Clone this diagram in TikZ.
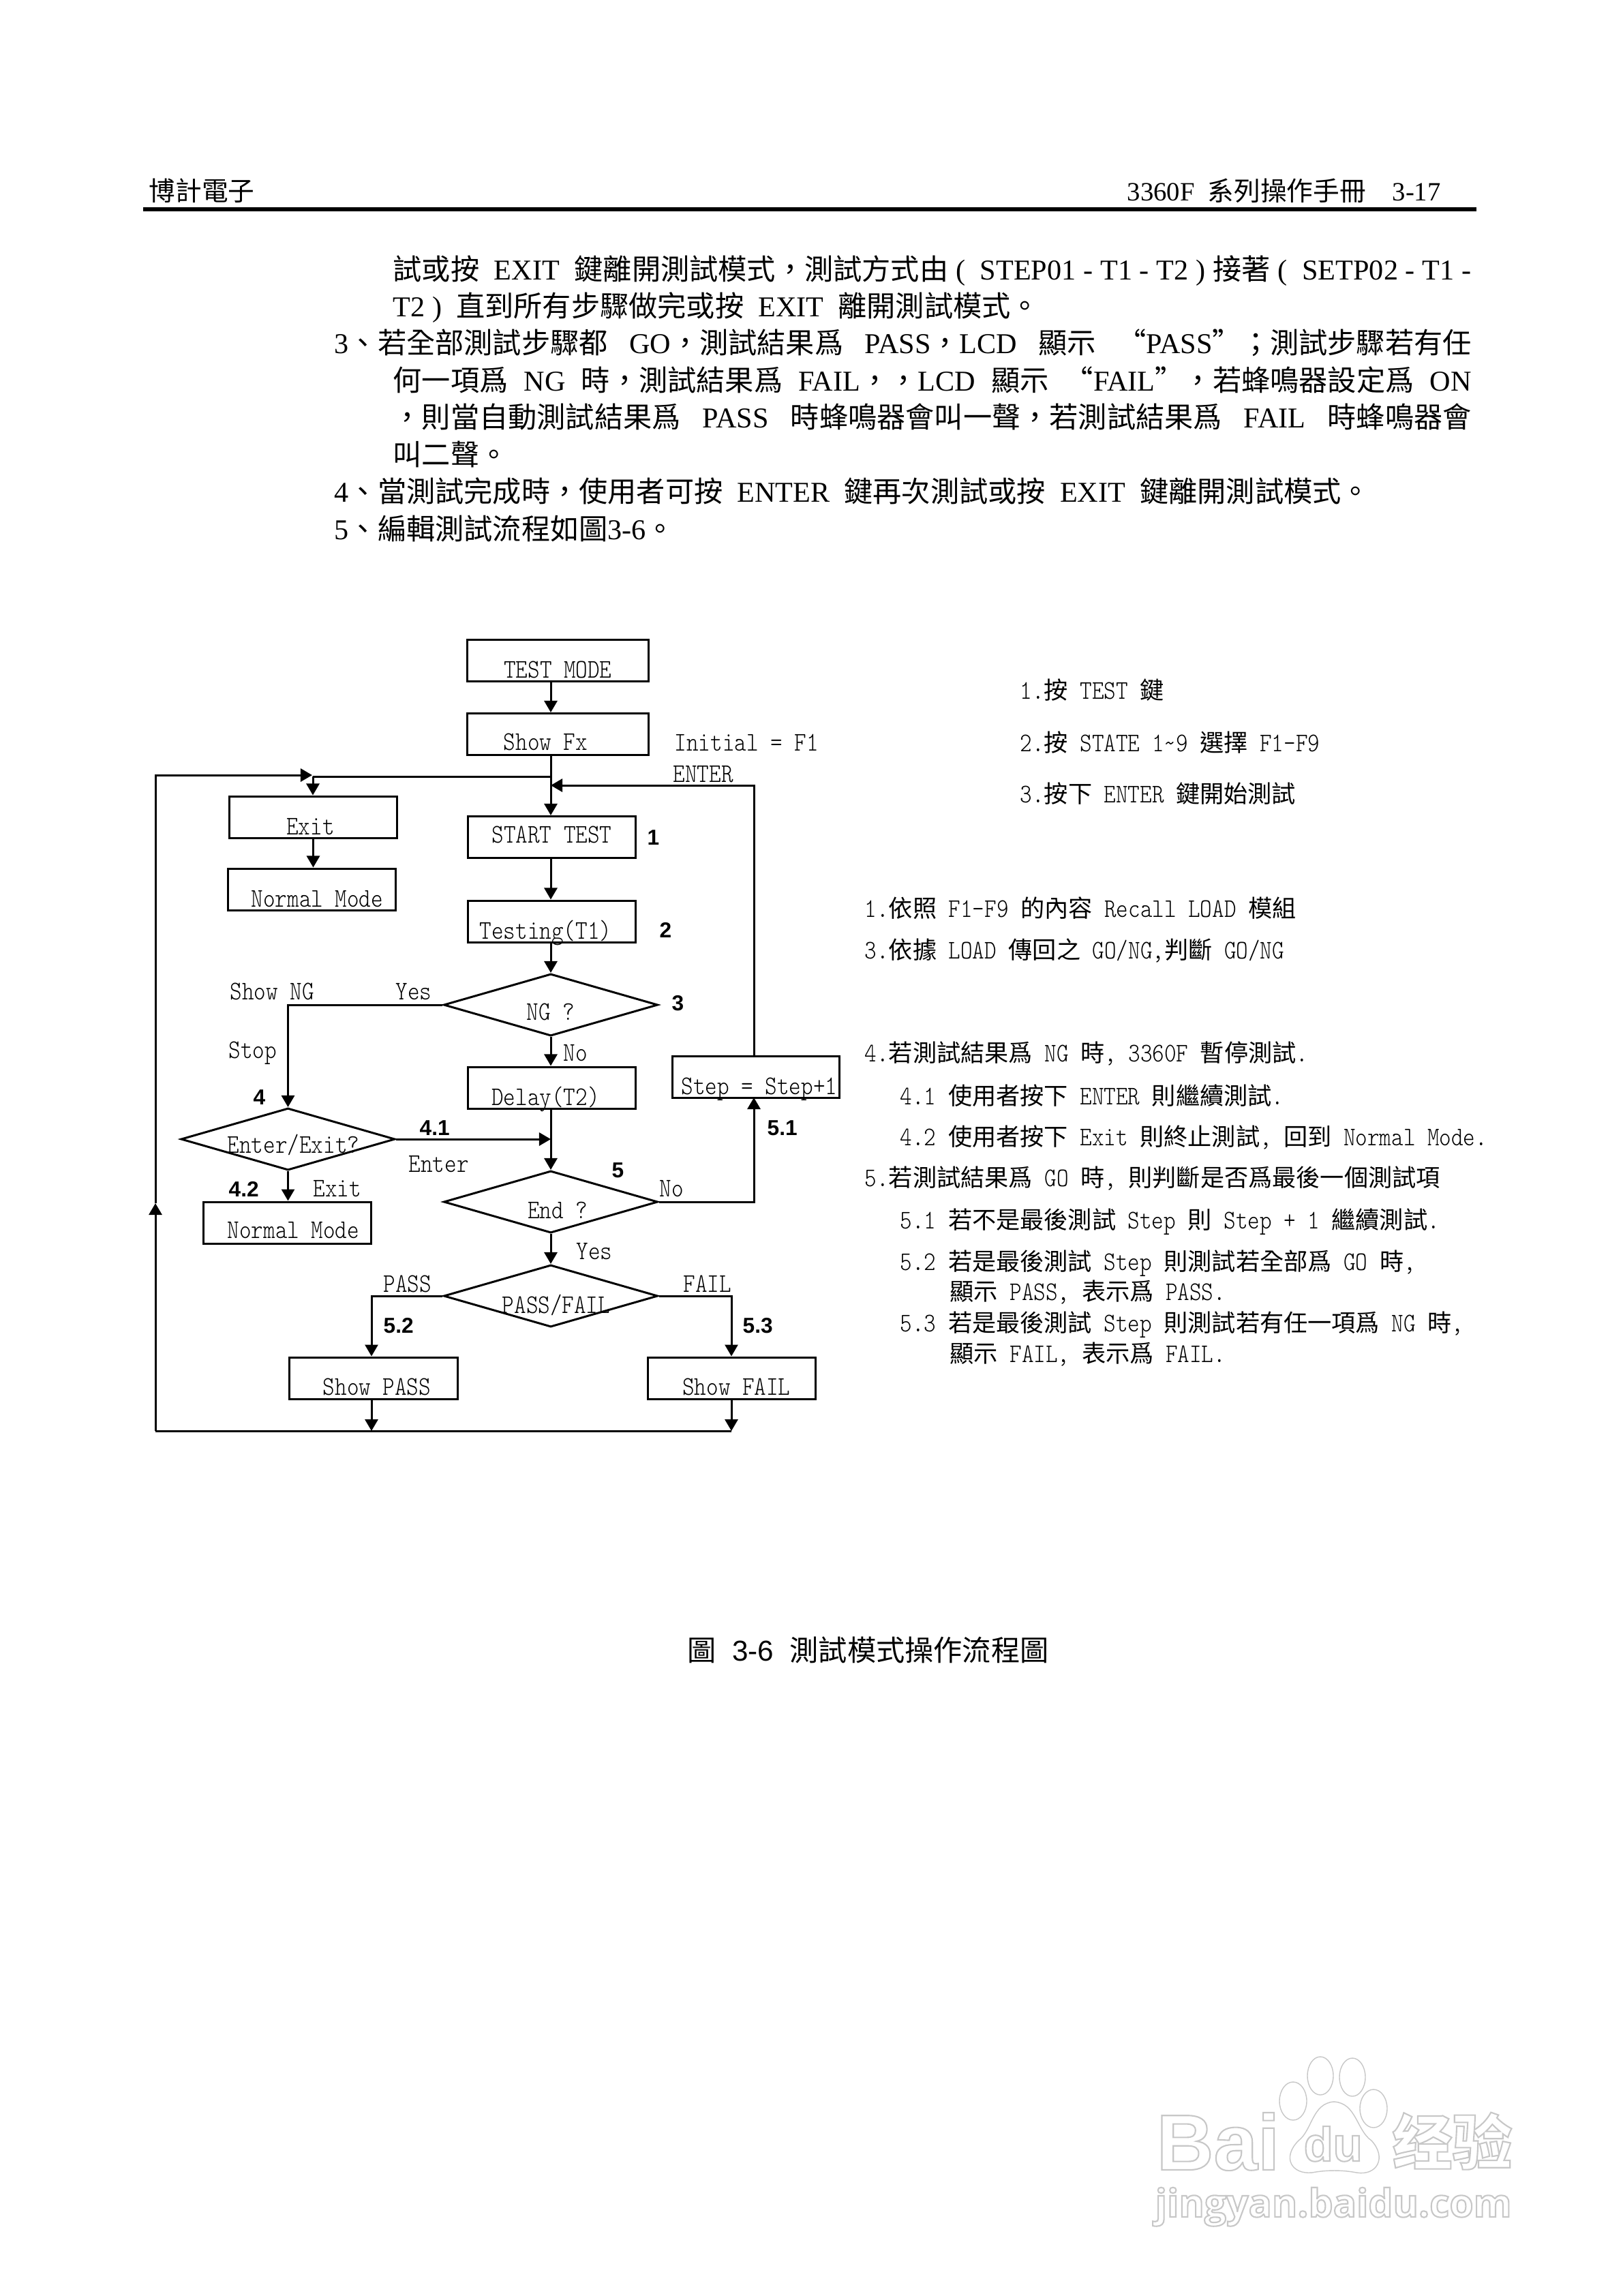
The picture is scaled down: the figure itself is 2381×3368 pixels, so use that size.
\documentclass[tikz,border=0pt]{standalone}
\usepackage{fontspec}
\usetikzlibrary{arrows.meta, shapes.geometric}
\setmainfont{Liberation Serif}
\newfontfamily\cjk{Noto Sans CJK TC}
\newfontfamily\cjknote{Noto Sans CJK TC}[Scale=0.893]
\newfontfamily\lat{Latin Modern Mono Light}[FakeStretch=0.85]
\newfontfamily\arial{Liberation Sans}
\newfontfamily\wide{Open Sans}
\newcommand{\zh}[1]{{\cjk #1}}
\newcommand{\zn}[1]{{\cjknote #1}}
\newcommand{\fitline}[2]{\makebox[#1][s]{#2}}
\newcommand{\lowered}[2]{\makebox[0pt][c]{\smash{\raisebox{-#1}{#2}}}}
\newcommand{\outl}[1]{\special{pdf:code 1 Tr 0.6 w 0.78 G}#1\special{pdf:code 0 Tr 0 G}}
\tikzset{
  box/.style={draw, line width=.03cm, inner sep=0pt, minimum width=2.46cm, text height=.56cm, text depth=.05cm, font=\lat\fontsize{11.2}{13}\selectfont},
  decide/.style={draw, diamond, line width=.03cm, inner sep=0pt, minimum width=3.14cm, minimum height=.91cm, font=\lat\fontsize{11.2}{13}\selectfont},
  flow/.style={-{Triangle[length=.17cm,width=.19cm]}, line width=.03cm},
  wire/.style={line width=.03cm},
  lab/.style={anchor=base west, inner sep=0pt, font=\lat\fontsize{11.2}{13}\selectfont},
  stepno/.style={anchor=base west, inner sep=0pt, font=\arial\bfseries\fontsize{9}{11}\selectfont},
  body/.style={anchor=base west, inner sep=0pt, font=\fontsize{12}{14}\selectfont},
  wmark/.style={draw=black!22, line width=.014cm},
}
\begin{document}
\begin{tikzpicture}[x=.01cm, y=-.01cm]
  \useasboundingbox (0,0) rectangle (2381,3368);
  % page head
  \node[body, font=\fontsize{11}{13}\selectfont] (headl) at (218,294) {\zh{博計電子}};
  \node[body, font=\fontsize{11}{13}\selectfont] (headr) at (1653,294) {3360F~~\zh{系列操作手冊}~~~~3-17};
  \coordinate (rulel) at (210,307);
  \coordinate (ruler) at (2166,307);
  \draw[line width=.06cm] (rulel) -- (ruler);
  % running text
  \node[body] (t1) at (576,410) {\fitline{15.81cm}{\zh{試或按}~~EXIT~~\zh{鍵離開測試模式，測試方式由} (~~STEP01 - T1 - T2 ) \zh{接著} (~~SETP02 - T1 -}};
  \node[body] (t2) at (576,464) {T2 )~~\zh{直到所有步驟做完或按}~~EXIT~~\zh{離開測試模式。}};
  \node[body] (t3) at (490,518) {\fitline{16.67cm}{3\zh{、若全部測試步驟都} GO\zh{，測試結果爲} PASS\zh{，}LCD \zh{顯示}~\zh{“}PASS\zh{”；測試步驟若有任}}};
  \node[body] (t4) at (576,573) {\fitline{15.81cm}{\zh{何一項爲} NG \zh{時，測試結果爲} FAIL\zh{，，}LCD \zh{顯示}~\zh{“}FAIL\zh{”，若蜂鳴器設定爲} ON}};
  \node[body] (t5) at (576,627) {\fitline{15.81cm}{\zh{，則當自動測試結果爲} PASS \zh{時蜂鳴器會叫一聲，若測試結果爲} FAIL \zh{時蜂鳴器會}}};
  \node[body] (t6) at (576,682) {\zh{叫二聲。}};
  \node[body] (t7) at (490,736) {4\zh{、當測試完成時，使用者可按}~~ENTER~~\zh{鍵再次測試或按}~~EXIT~~\zh{鍵離開測試模式。}};
  \node[body] (t8) at (490,791) {5\zh{、編輯測試流程如圖}3-6\zh{。}};
  % flow chart boxes
  \node[box, minimum width=2.65cm] (mode) at (818.5,968.5) {TEST MODE};
  \node[box, minimum width=2.65cm, text depth=.07cm, text height=.54cm] (fx) at (818.5,1077) {\hspace*{-.36cm}Show Fx};
  \node[box] (exit) at (459.5,1198.5) {\hspace*{-.08cm}Exit};
  \node[box] (normala) at (457.5,1304.5) {\hspace*{.16cm}Normal Mode};
  \node[box, text depth=.22cm, text height=.39cm] (start) at (809.5,1228) {START TEST};
  \node[box] (testing) at (809.5,1351.5) {\hspace*{-.18cm}Testing(T1)};
  \node[decide] (ng) at (808,1474) {\lowered{.22cm}{NG ?}};
  \node[box] (delay) at (809.5,1595.5) {\hspace*{-.18cm}Delay(T2)};
  \node[box, minimum width=2.44cm] (stepup) at (1109,1579.5) {\hspace*{.1cm}Step = Step+1};
  \node[decide] (enterq) at (422.5,1671) {\lowered{.2cm}{\hspace*{.16cm}Enter/Exit?}};
  \node[decide] (endq) at (808,1763) {\lowered{.24cm}{\hspace*{.2cm}End ?}};
  \node[box, text depth=.08cm, text height=.53cm] (normalb) at (421.5,1793.5) {\hspace*{.18cm}Normal Mode};
  \node[decide] (passfail) at (808,1901) {\lowered{.25cm}{\hspace*{.16cm}PASS/FAIL}};
  \node[box, text depth=.06cm, text height=.55cm] (showpass) at (548,2021.5) {\hspace*{.1cm}Show PASS};
  \node[box, text depth=.06cm, text height=.55cm] (showfail) at (1073.5,2021.5) {\hspace*{.14cm}Show FAIL};
  % points on the lines
  \coordinate (fork) at (808,1139);
  \coordinate (forkl) at (459,1139);
  \coordinate (enterin) at (808,1152);
  \coordinate (merge) at (808,1671);
  \coordinate (stepb) at (1106,1610);
  \coordinate (lp) at (545,2099);
  \coordinate (lf) at (1073,2099);
  \coordinate (lb) at (228,2099);
  \coordinate (loopup) at (228,1765);
  \coordinate (looptl) at (228,1137);
  \coordinate (looptr) at (458,1137);
  % connectors
  \draw[flow] (mode.south -| fork) -- (fx.north -| fork);
  \draw[flow] (fx.south -| fork) -- (start.north -| fork);
  \draw[wire] (fork) -- (forkl);
  \draw[flow] (forkl) -- (exit.north -| forkl);
  \draw[flow] (exit.south) -- (exit.south |- normala.north);
  \draw[flow] (start.south -| fork) -- (testing.north -| fork);
  \draw[flow] (testing.south -| fork) -- (ng.north);
  \draw[flow] (ng.south) -- (ng.south |- delay.north);
  \draw[flow] (ng.west) -| (enterq.north);
  \draw[flow] (enterq.east) -- (merge);
  \draw[flow] (enterq.south) -- (enterq.south |- normalb.north);
  \draw[flow] (delay.south -| fork) -- (endq.north);
  \draw[flow] (endq.south) -- (passfail.north);
  \draw[flow] (endq.east) -| (stepb);
  \draw[flow] (stepup.north -| stepb) |- (enterin);
  \draw[flow] (passfail.west) -| (showpass.north -| lp);
  \draw[flow] (passfail.east) -| (showfail.north -| lf);
  \draw[flow] (showpass.south -| lp) -- (lp);
  \draw[flow] (showfail.south -| lf) -- (lf);
  \draw[wire] (lf) -- (lb);
  \draw[flow] (lb) -- (loopup);
  \draw[flow] (loopup) -- (looptl) -- (looptr);
  % texts on the chart
  \node[lab] (initial) at (989,1101) {Initial = F1};
  \node[lab] (enterkey) at (987,1147) {ENTER};
  \node[lab] (showng) at (337,1466) {Show NG};
  \node[lab] (yesa) at (580,1466) {Yes};
  \node[lab] (stoplab) at (335,1552) {Stop};
  \node[lab] (noa) at (826,1556) {No};
  \node[lab] (enterlab) at (599,1719) {Enter};
  \node[lab] (nob) at (967,1755) {No};
  \node[lab] (exitlab) at (459,1755) {Exit};
  \node[lab] (yesb) at (845,1847) {Yes};
  \node[lab] (passlab) at (562,1895) {PASS};
  \node[lab] (faillab) at (1002,1895) {FAIL};
  % step numbers
  \node[stepno] (n1) at (949,1239) {1};
  \node[stepno] (n2) at (967,1375) {2};
  \node[stepno] (n3) at (985,1482) {3};
  \node[stepno] (n4) at (371,1620) {4};
  \node[stepno] (n41) at (615,1665) {4.1};
  \node[stepno] (n42) at (335,1755) {4.2};
  \node[stepno] (n5) at (897,1727) {5};
  \node[stepno] (n51) at (1125,1665) {5.1};
  \node[stepno] (n52) at (562,1955) {5.2};
  \node[stepno] (n53) at (1089,1955) {5.3};
  % notes beside the chart
  \node[lab] (na1) at (1496,1025) {1.\zn{按} TEST \zn{鍵}};
  \node[lab] (na2) at (1496,1102) {2.\zn{按} STATE 1\char`\~9 \zn{選擇} F1-F9};
  \node[lab] (na3) at (1496,1177) {3.\zn{按下} ENTER \zn{鍵開始測試}};
  \node[lab] (nb1) at (1268,1345) {1.\zn{依照} F1-F9 \zn{的內容} Recall LOAD \zn{模組}};
  \node[lab] (nb3) at (1268,1406) {3.\zn{依據} LOAD \zn{傳回之} GO/NG,\zn{判斷} GO/NG};
  \node[lab] (nc4) at (1268,1557) {4.\zn{若測試結果爲} NG \zn{時}, 3360F \zn{暫停測試}.};
  \node[lab] (nc41) at (1320,1620) {4.1 \zn{使用者按下} ENTER \zn{則繼續測試}.};
  \node[lab] (nc42) at (1320,1680) {4.2 \zn{使用者按下} Exit \zn{則終止測試}, \zn{回到} Normal Mode.};
  \node[lab] (nd5) at (1268,1740) {5.\zn{若測試結果爲} GO \zn{時}, \zn{則判斷是否爲最後一個測試項}};
  \node[lab] (nd51) at (1320,1802) {5.1 \zn{若不是最後測試} Step \zn{則} Step + 1 \zn{繼續測試}.};
  \node[lab] (nd52) at (1320,1863) {5.2 \zn{若是最後測試} Step \zn{則測試若全部爲} GO \zn{時},};
  \node[lab] (nd52b) at (1393,1907) {\zn{顯示} PASS, \zn{表示爲} PASS.};
  \node[lab] (nd53) at (1320,1953) {5.3 \zn{若是最後測試} Step \zn{則測試若有任一項爲} NG \zn{時},};
  \node[lab] (nd53b) at (1393,1998) {\zn{顯示} FAIL, \zn{表示爲} FAIL.};
  % caption
  \node[body, font=\arial\fontsize{12}{14}\selectfont] (caption) at (1008,2436) {\zh{圖}~~3-6~~\zh{測試模式操作流程圖}};
  % watermark
  \draw[wmark, fill=white] (1897,3082) ellipse [x radius=20, y radius=28];
  \draw[wmark, fill=white] (1937,3045) ellipse [x radius=19, y radius=28];
  \draw[wmark, fill=white] (1984,3047) ellipse [x radius=19, y radius=28];
  \draw[wmark, fill=white] (2015,3093) ellipse [x radius=20, y radius=28];
  \draw[wmark, fill=white] (1957,3083) .. controls (1925,3085) and (1925,3125) .. (1905,3140) .. controls (1880,3165) and (1895,3190) .. (1925,3187) .. controls (1945,3183) and (1970,3183) .. (1990,3187) .. controls (2020,3192) and (2035,3165) .. (2012,3140) .. controls (1990,3125) and (1990,3085) .. (1957,3083) -- cycle;
  \node[anchor=base west, inner sep=0pt, font=\arial\bfseries\fontsize{33}{36}\selectfont] (bai) at (1696,3183) {\outl{Bai}};
  \node[anchor=base west, inner sep=0pt, font=\arial\bfseries\fontsize{20}{22}\selectfont] (du) at (1912,3170) {\outl{du}};
  \node[anchor=base west, inner sep=0pt, font=\cjk\bfseries\fontsize{25}{28}\selectfont] (jing) at (2042,3175) {\outl{经验}};
  \node[anchor=base west, inner sep=0pt, font=\wide\bfseries\fontsize{16.2}{19}\selectfont] (site) at (1694,3252) {\outl{jingyan.baidu.com}};
\end{tikzpicture}
\end{document}
